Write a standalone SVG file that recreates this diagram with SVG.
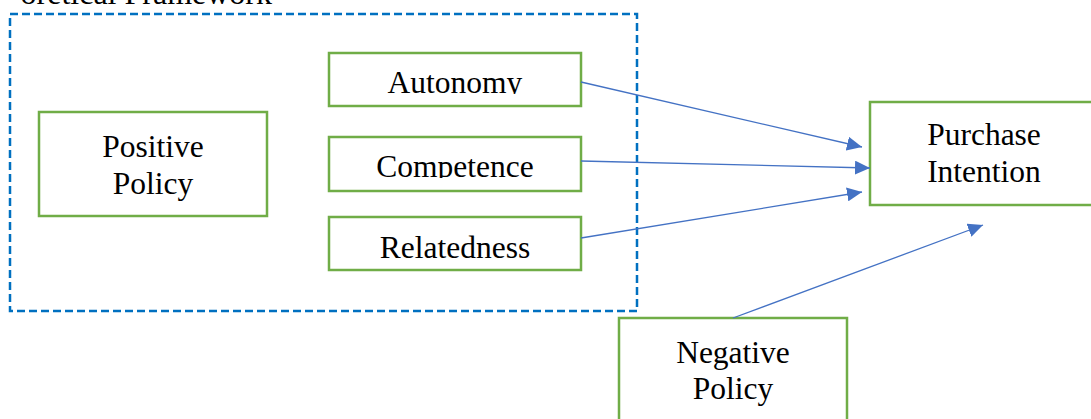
<svg xmlns="http://www.w3.org/2000/svg" width="1091" height="419" viewBox="0 0 1091 419">
<style>
.box{fill:#fff;stroke:#70AD47;stroke-width:2.5}
.t{font-family:"Liberation Serif","Times New Roman",serif;font-size:31.5px;fill:#000;text-anchor:middle}
.c{fill:none;stroke:#4472C4;stroke-width:1.3}
</style>
<defs>
<marker id="ah" viewBox="0 0 10 10" refX="10" refY="5" markerWidth="15" markerHeight="14" markerUnits="userSpaceOnUse" orient="auto" preserveAspectRatio="none">
<path d="M0,0 L10,5 L0,10 z" fill="#4472C4"/>
</marker>
<clipPath id="clipA"><rect x="329" y="53" width="252" height="41"/></clipPath>
<clipPath id="clipC"><rect x="329" y="137" width="252" height="41"/></clipPath>
</defs>
<rect width="1091" height="419" fill="#fff"/>
<text x="272" y="4" font-family="Liberation Serif, serif" font-size="32" text-anchor="end" fill="#000">oretical Framework</text>
<rect id="group-frame" x="10" y="14" width="627" height="297" fill="none" stroke="#0070C0" stroke-width="2.5" stroke-dasharray="8 4"/>
<g id="positive-policy">
<rect class="box" x="39" y="112" width="228" height="104"/>
<text class="t" x="153" y="157">Positive</text>
<text class="t" x="153" y="194">Policy</text>
</g>
<g id="autonomy">
<rect class="box" x="329" y="53" width="252" height="53"/>
<text class="t" x="455" y="93" clip-path="url(#clipA)">Autonomy</text>
</g>
<g id="competence">
<rect class="box" x="329" y="137" width="252" height="54"/>
<text class="t" x="455" y="177" clip-path="url(#clipC)">Competence</text>
</g>
<g id="relatedness">
<rect class="box" x="329" y="217" width="252" height="53"/>
<text class="t" x="455" y="258">Relatedness</text>
</g>
<g id="purchase-intention">
<rect class="box" x="870" y="102" width="228" height="103"/>
<text class="t" x="984" y="145">Purchase</text>
<text class="t" x="984" y="182">Intention</text>
</g>
<g id="negative-policy">
<rect class="box" x="619" y="318" width="228" height="110"/>
<text class="t" x="733" y="363">Negative</text>
<text class="t" x="733" y="399">Policy</text>
</g>
<g id="connectors">
<line class="c" x1="581" y1="82" x2="862" y2="147" marker-end="url(#ah)"/>
<line class="c" x1="581" y1="161" x2="870" y2="168" marker-end="url(#ah)"/>
<line class="c" x1="581" y1="238" x2="862" y2="192" marker-end="url(#ah)"/>
<line class="c" x1="733" y1="318" x2="983" y2="225" marker-end="url(#ah)"/>
</g>
</svg>
